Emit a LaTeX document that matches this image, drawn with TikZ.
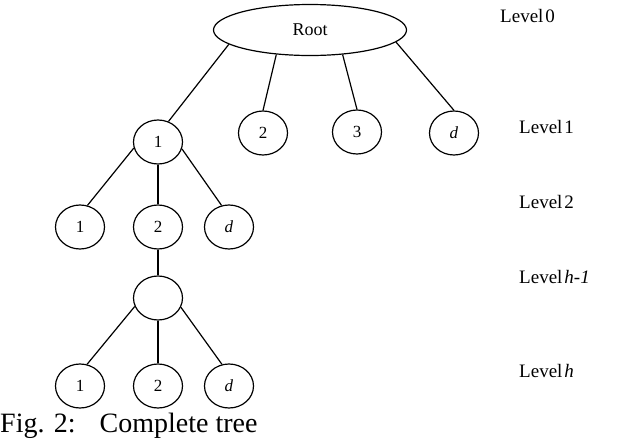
\documentclass[tikz,border=0pt]{standalone}
\usepackage{fontspec}
\setmainfont{Liberation Serif}
\usepackage{tikz}
\usetikzlibrary{shapes.geometric}

\begin{document}
\begin{tikzpicture}[x=1pt,y=-1pt,
  vertex/.style={draw,ellipse,line width=1.2pt,minimum width=49pt,minimum height=44pt,inner sep=0pt,font=\fontsize{17}{17}\selectfont},
  levellabel/.style={anchor=base west,inner sep=0pt,font=\fontsize{19}{19}\selectfont},
  edge/.style={line width=1.2pt}]
\useasboundingbox (0,0) rectangle (618,440);
\node[vertex,minimum width=193pt,minimum height=51pt,font=\fontsize{18}{18}\selectfont] (root) at (310,30) {Root};
\node[vertex] (c1) at (158,142) {1};
\node[vertex] (c2) at (263,133) {2};
\node[vertex] (c3) at (357,132) {3};
\node[vertex] (cd) at (454,133) {\textit{d}};
\node[vertex] (a1) at (80,227) {1};
\node[vertex] (a2) at (158,227) {2};
\node[vertex] (ad) at (229,227) {\textit{d}};
\node[vertex] (e) at (158,298) {};
\node[vertex] (b1) at (80,386) {1};
\node[vertex] (b2) at (158,386) {2};
\node[vertex] (bd) at (229,386) {\textit{d}};
\draw[edge] (root.190) -- (c1.63);
\draw[edge] (root.216) -- (c2.north);
\draw[edge] (root.323) -- (c3.north);
\draw[edge] (root.352) -- (cd.north);
\draw[edge] (c1.194) -- (a1.71);
\draw[edge] (c1.south) -- (a2.north);
\draw[edge] (c1.344) -- (ad.109);
\draw[edge] (a2.south) -- (e.north);
\draw[edge] (e.200) -- (b1.72);
\draw[edge] (e.south) -- (b2.north);
\draw[edge] (e.338) -- (bd.108);
\node[levellabel] (l0) at (500,22) {Level\hspace{2pt}0};
\node[levellabel] (l1) at (519,133) {Level\hspace{2pt}1};
\node[levellabel] (l2) at (519,208) {Level\hspace{2pt}2};
\node[levellabel] (l3) at (519,283) {Level\hspace{2pt}\textit{h-1}};
\node[levellabel] (l4) at (519,377) {Level\hspace{2pt}\textit{h}};
\node[anchor=base west,inner sep=0pt,font=\fontsize{28}{28}\selectfont] (caption) at (0,432) {Fig. 2:\hspace{24pt}Complete tree};
\end{tikzpicture}
\end{document}
